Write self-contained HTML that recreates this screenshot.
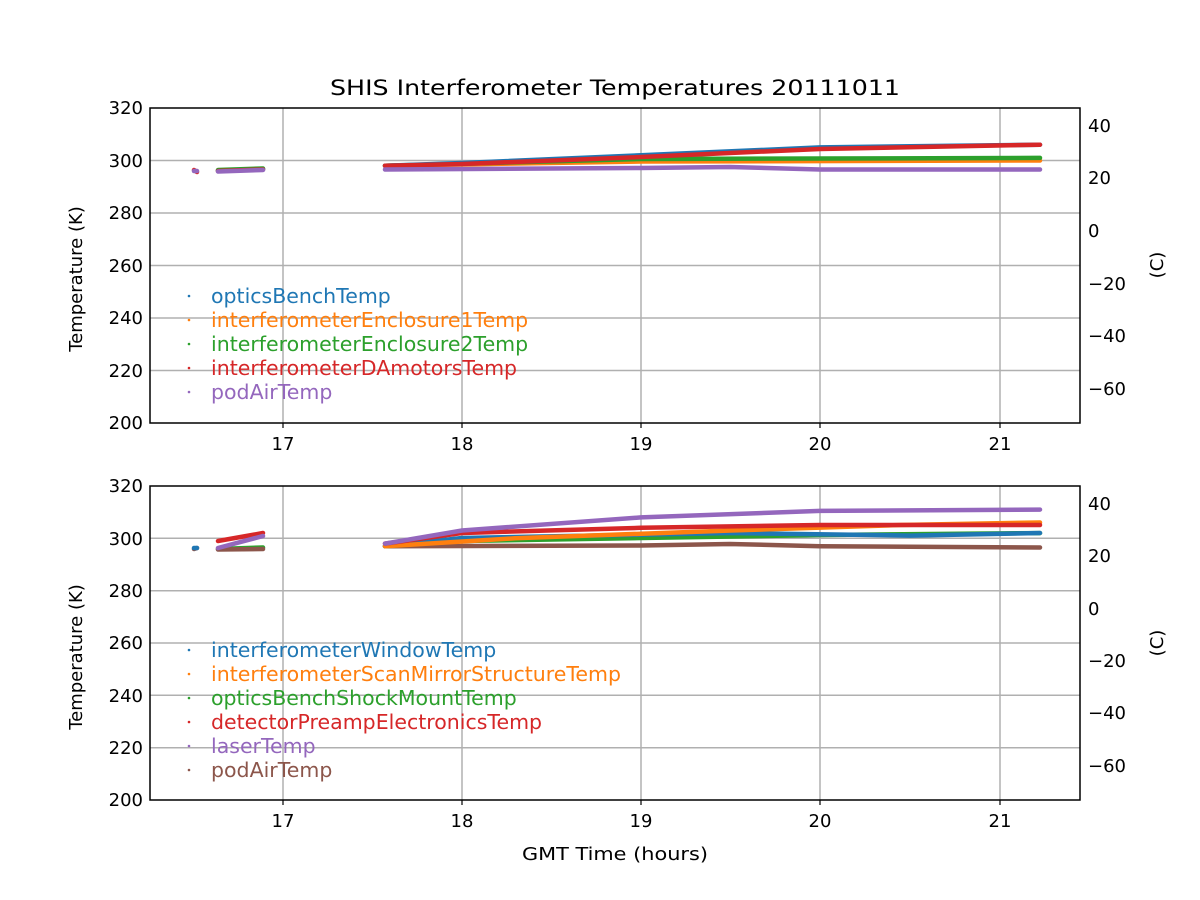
<!DOCTYPE html>
<html><head><meta charset="utf-8"><style>body{margin:0;background:#fff}svg{display:block;font-family:"DejaVu Sans","Liberation Sans",sans-serif}</style></head><body>
<svg width="1200" height="900" viewBox="0 0 1200 900" xmlns="http://www.w3.org/2000/svg">
<rect width="1200" height="900" fill="#fff"/>
<text x="615" y="95" font-size="21" text-anchor="middle" textLength="570" lengthAdjust="spacingAndGlyphs">SHIS Interferometer Temperatures 20111011</text>
<g stroke="#b0b0b0" stroke-width="1.5">
<line x1="283" y1="108" x2="283" y2="423"/><line x1="462" y1="108" x2="462" y2="423"/><line x1="641" y1="108" x2="641" y2="423"/><line x1="820" y1="108" x2="820" y2="423"/><line x1="1000" y1="108" x2="1000" y2="423"/>
<line x1="150" y1="160.5" x2="1080" y2="160.5"/><line x1="150" y1="213" x2="1080" y2="213"/><line x1="150" y1="265.5" x2="1080" y2="265.5"/><line x1="150" y1="318" x2="1080" y2="318"/><line x1="150" y1="370.5" x2="1080" y2="370.5"/>
<line x1="283" y1="486" x2="283" y2="800"/><line x1="462" y1="486" x2="462" y2="800"/><line x1="641" y1="486" x2="641" y2="800"/><line x1="820" y1="486" x2="820" y2="800"/><line x1="1000" y1="486" x2="1000" y2="800"/>
<line x1="150" y1="538.3" x2="1080" y2="538.3"/><line x1="150" y1="590.7" x2="1080" y2="590.7"/><line x1="150" y1="643" x2="1080" y2="643"/><line x1="150" y1="695.3" x2="1080" y2="695.3"/><line x1="150" y1="747.7" x2="1080" y2="747.7"/>
</g>
<g fill="none" stroke-width="4.5" stroke-linecap="round">
<polyline stroke="#ff7f0e" points="385,165.7 641,161.5 1040,160.5"/>
<polyline stroke="#2ca02c" points="385,165.7 641,159 1040,157.9"/>
<polyline stroke="#1f77b4" points="385,165.7 462,163 641,155.3 820,147.4 1040,144.7"/>
<polyline stroke="#d62728" points="385,165.7 462,164 641,157 820,149 1040,144.7"/>
<polyline stroke="#9467bd" points="385,169.5 641,168 730,167 820,169.5 1040,169.5"/>
<polyline stroke="#1f77b4" points="218,170.5 263,169"/>
<polyline stroke="#2ca02c" points="218,170 263,168.5"/>
<polyline stroke="#d62728" points="218,171 263,169.5"/>
<polyline stroke="#9467bd" points="218,171.5 263,170"/>
<line stroke="#d62728" x1="194" y1="170" x2="197" y2="172"/>
<line stroke="#9467bd" x1="194" y1="171" x2="197" y2="171"/>
<polyline stroke="#8c564b" points="385,546.2 641,545.5 730,544 820,546.2 1040,547.5"/>
<polyline stroke="#2ca02c" points="385,546.2 462,541 641,538 820,535 1040,533.1"/>
<polyline stroke="#1f77b4" points="385,546.2 462,538 731,533 910,535.6 1040,533"/>
<polyline stroke="#ff7f0e" points="385,546.2 515,538.3 731,530.5 900,525 1040,522.5"/>
<polyline stroke="#d62728" points="385,543.6 462,533 641,527.8 820,525 1040,525"/>
<polyline stroke="#9467bd" points="385,543.6 462,530.5 641,517.4 820,510.9 1040,509.6"/>
<polyline stroke="#2ca02c" points="218,549 263,547.5"/>
<polyline stroke="#8c564b" points="218,549.5 263,549"/>
<polyline stroke="#d62728" points="218,541 263,533"/>
<polyline stroke="#9467bd" points="218,548 263,536"/>
<line stroke="#8c564b" x1="194" y1="549" x2="197" y2="548"/>
<line stroke="#1f77b4" x1="194" y1="548" x2="197" y2="548"/>
</g>
<g fill="none" stroke="#000" stroke-width="1.5">
<rect x="150" y="108" width="930" height="315"/>
<rect x="150" y="486" width="930" height="314"/>
</g>
<g stroke="#000" stroke-width="1.2">
<line x1="283" y1="423" x2="283" y2="428"/><line x1="462" y1="423" x2="462" y2="428"/><line x1="641" y1="423" x2="641" y2="428"/><line x1="820" y1="423" x2="820" y2="428"/><line x1="1000" y1="423" x2="1000" y2="428"/>
<line x1="283" y1="800" x2="283" y2="805"/><line x1="462" y1="800" x2="462" y2="805"/><line x1="641" y1="800" x2="641" y2="805"/><line x1="820" y1="800" x2="820" y2="805"/><line x1="1000" y1="800" x2="1000" y2="805"/>
</g>
<g font-size="18" text-anchor="middle">
<text x="283" y="450">17</text><text x="462" y="450">18</text><text x="641" y="450">19</text><text x="820" y="450">20</text><text x="1000" y="450">21</text>
<text x="283" y="827">17</text><text x="462" y="827">18</text><text x="641" y="827">19</text><text x="820" y="827">20</text><text x="1000" y="827">21</text>
<text x="615" y="860" textLength="186" lengthAdjust="spacingAndGlyphs">GMT Time (hours)</text>
</g>
<g font-size="18" text-anchor="end">
<text x="143" y="114">320</text><text x="143" y="167">300</text><text x="143" y="219">280</text><text x="143" y="272">260</text><text x="143" y="324">240</text><text x="143" y="377">220</text><text x="143" y="429">200</text>
<text x="143" y="492">320</text><text x="143" y="545">300</text><text x="143" y="597">280</text><text x="143" y="649">260</text><text x="143" y="702">240</text><text x="143" y="754">220</text><text x="143" y="806">200</text>
</g>
<g font-size="18" text-anchor="start">
<text x="1088" y="132">40</text><text x="1088" y="184">20</text><text x="1088" y="237">0</text><text x="1088" y="290">−20</text><text x="1088" y="342">−40</text><text x="1088" y="395">−60</text>
<text x="1088" y="510">40</text><text x="1088" y="562">20</text><text x="1088" y="615">0</text><text x="1088" y="667">−20</text><text x="1088" y="719">−40</text><text x="1088" y="772">−60</text>
</g>
<text font-size="18" text-anchor="middle" transform="translate(82,279) rotate(-90)">Temperature (K)</text>
<text font-size="18" text-anchor="middle" transform="translate(82,657) rotate(-90)">Temperature (K)</text>
<text font-size="18" text-anchor="middle" transform="translate(1163,265) rotate(-90)">(C)</text>
<text font-size="18" text-anchor="middle" transform="translate(1163,643) rotate(-90)">(C)</text>
<g font-size="20.5">
<circle cx="189" cy="296" r="1.3" fill="#1f77b4"/><text x="211" y="303" fill="#1f77b4">opticsBenchTemp</text>
<circle cx="189" cy="320" r="1.3" fill="#ff7f0e"/><text x="211" y="327" fill="#ff7f0e">interferometerEnclosure1Temp</text>
<circle cx="189" cy="344" r="1.3" fill="#2ca02c"/><text x="211" y="351" fill="#2ca02c">interferometerEnclosure2Temp</text>
<circle cx="189" cy="368" r="1.3" fill="#d62728"/><text x="211" y="375" fill="#d62728">interferometerDAmotorsTemp</text>
<circle cx="189" cy="392" r="1.3" fill="#9467bd"/><text x="211" y="399" fill="#9467bd">podAirTemp</text>
<circle cx="189" cy="650" r="1.3" fill="#1f77b4"/><text x="211" y="657" fill="#1f77b4">interferometerWindowTemp</text>
<circle cx="189" cy="674" r="1.3" fill="#ff7f0e"/><text x="211" y="681" fill="#ff7f0e">interferometerScanMirrorStructureTemp</text>
<circle cx="189" cy="698" r="1.3" fill="#2ca02c"/><text x="211" y="705" fill="#2ca02c">opticsBenchShockMountTemp</text>
<circle cx="189" cy="722" r="1.3" fill="#d62728"/><text x="211" y="729" fill="#d62728">detectorPreampElectronicsTemp</text>
<circle cx="189" cy="746" r="1.3" fill="#9467bd"/><text x="211" y="753" fill="#9467bd">laserTemp</text>
<circle cx="189" cy="770" r="1.3" fill="#8c564b"/><text x="211" y="777" fill="#8c564b">podAirTemp</text>
</g>
</svg>
</body></html>
